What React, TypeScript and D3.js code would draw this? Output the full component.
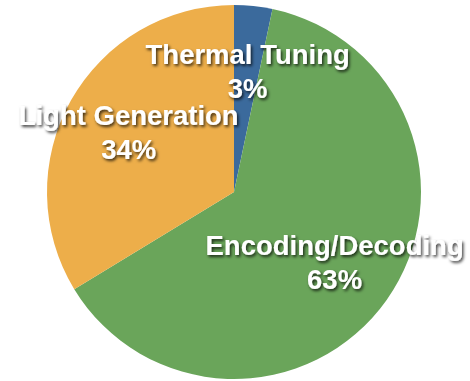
import React, { FC, useMemo } from 'react'
import * as d3 from 'd3'

const categories = ['Thermal Tuning', 'Encoding/Decoding', 'Light Generation']
const values = [3.3, 63.0, 33.7]
const percentLabels = ['3%', '63%', '34%']
const colors = ['#3b6a9c', '#6aa55a', '#edae4a']

const width = 470
const height = 381
const cx = 234
const cy = 192
const radius = 187

const App: FC = () => {
	const arcs = useMemo(() => {
		const pie = d3
			.pie<number>()
			.sort(null)
			.value((d) => d)
		return pie(values)
	}, [])

	const arc = d3.arc<d3.PieArcDatum<number>>().innerRadius(0).outerRadius(radius)
	const labelArc = d3
		.arc<d3.PieArcDatum<number>>()
		.innerRadius(122)
		.outerRadius(122)

	return (
		<svg
			width={width}
			height={height}
			style={{ position: 'absolute', left: 0, top: 0, display: 'block' }}
		>
			<defs>
				<filter id="shadow" x="-20%" y="-40%" width="140%" height="180%">
					<feDropShadow
						dx={1.5}
						dy={2}
						stdDeviation={1.8}
						floodColor="#000"
						floodOpacity={0.75}
					/>
				</filter>
			</defs>
			<g transform={`translate(${cx}, ${cy})`}>
				{arcs.map((a, i) => (
					<path key={i} d={arc(a) || ''} fill={colors[i]} />
				))}
				{/* 标签 */}
				{arcs.map((a, i) => {
					const [x, y] = labelArc.centroid(a)
					return (
						<g
							key={'l' + i}
							filter="url(#shadow)"
							fill="#fff"
							fontFamily="'Liberation Sans', Arial, sans-serif"
							fontWeight="bold"
							fontSize={27.5}
							textAnchor="middle"
						>
							<text x={x + 1} y={y - 7}>
								{categories[i]}
							</text>
							<text x={x + 1} y={y + 27}>
								{percentLabels[i]}
							</text>
						</g>
					)
				})}
			</g>
		</svg>
	)
}

export default App
